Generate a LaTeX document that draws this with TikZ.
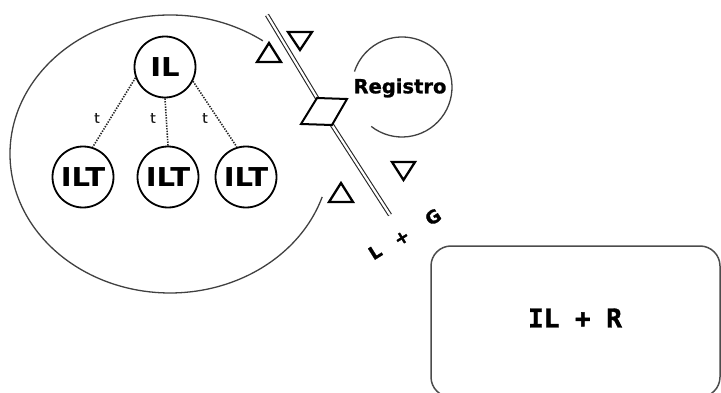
\documentclass[tikz,border=0pt]{standalone}
\usepackage{fontspec}
\setmainfont{DejaVu Sans}
\newfontfamily\ilfont[FakeStretch=1.12]{DejaVu Sans}
\newfontfamily\heavyfont[FakeBold=1.2]{DejaVu Sans}
\newfontfamily\monofont[FakeBold=1.5]{DejaVu Sans Mono}
\begin{document}
\begin{tikzpicture}[x=1pt,y=1pt,
  curve/.style={draw=black!75, line width=1.3pt},
  bubble/.style={circle, draw=black, line width=1.8pt, inner sep=0pt, minimum size=61pt, font=\ilfont\bfseries\fontsize{26}{26}\selectfont},
  tie/.style={draw=black!85, line width=1.6pt, dash pattern=on 1.4pt off 1.3pt},
  tlabel/.style={font=\heavyfont\fontsize{14}{14}\selectfont, text=black!90, inner sep=0pt},
  rail/.style={draw=black!85, line width=1.1pt, double=white, double distance=2.2pt},
  tri/.style={draw=black, line width=2.3pt, line join=miter},
  lg/.style={font=\heavyfont\bfseries\fontsize{18}{18}\selectfont, rotate=32, inner sep=0pt}
]
\useasboundingbox (0,0) rectangle (721,392);
\begin{scope}
\clip (0,0) rectangle (721,392);
% big open ellipse
\draw[curve] (170,238) ++(54.5:160 and 139) arc[start angle=54.5, end angle=342, x radius=160, y radius=139];
% tree
\node[bubble] (IL) at (165,325) {IL};
\node[bubble] (ILT1) at (83,215) {ILT};
\node[bubble] (ILT2) at (168,215) {ILT};
\node[bubble] (ILT3) at (246,215) {ILT};
\draw[tie] (IL.200) -- (ILT1.72);
\draw[tie] (IL.270) -- (ILT2.90);
\draw[tie] (IL.333) -- (ILT3.107);
\node[tlabel] (t1) at (97,274) {t};
\node[tlabel] (t2) at (153,274) {t};
\node[tlabel] (t3) at (205,274) {t};
% membrane with gate
\coordinate (railtop) at (267,377);
\coordinate (railbot) at (390,177);
\coordinate (g1) at (317,294);
\coordinate (g2) at (347,293);
\coordinate (g3) at (332,267);
\coordinate (g4) at (301,268);
\draw[rail] (railtop) -- (g1);
\draw[rail] (g3) -- (railbot);
\draw[tri, line width=2pt] (g1) -- (g2) -- (g3) -- (g4) -- cycle;
% triangles
\draw[tri] (269,349) -- (281,330) -- (257,330) -- cycle;
\draw[tri] (288,360) -- (312,360) -- (300,342) -- cycle;
\draw[tri] (392,230) -- (415,230) -- (403.5,212) -- cycle;
\draw[tri] (341,209) -- (353,190) -- (329,190) -- cycle;
% Registro
\draw[curve] (402,305) ++(-128:50) arc[start angle=-128, end angle=162, radius=50];
\node[font=\heavyfont\bfseries\fontsize{19.5}{19.5}\selectfont, inner sep=0pt] (reg) at (400,304) {Registro};
% L + G
\node[lg] (L) at (375,140) {L};
\node[lg] (plus) at (402,154) {+};
\node[lg] (G) at (433,175) {G};
% result box
\node[draw=black!70, line width=1.5pt, rounded corners=20pt, minimum width=289pt, minimum height=151pt, inner sep=0pt] (box) at (575.5,70.5) {};
\node[font=\monofont\bfseries\fontsize{26}{26}\selectfont, inner sep=0pt] (res) at (575,74) {IL + R};
\end{scope}
\end{tikzpicture}
\end{document}
